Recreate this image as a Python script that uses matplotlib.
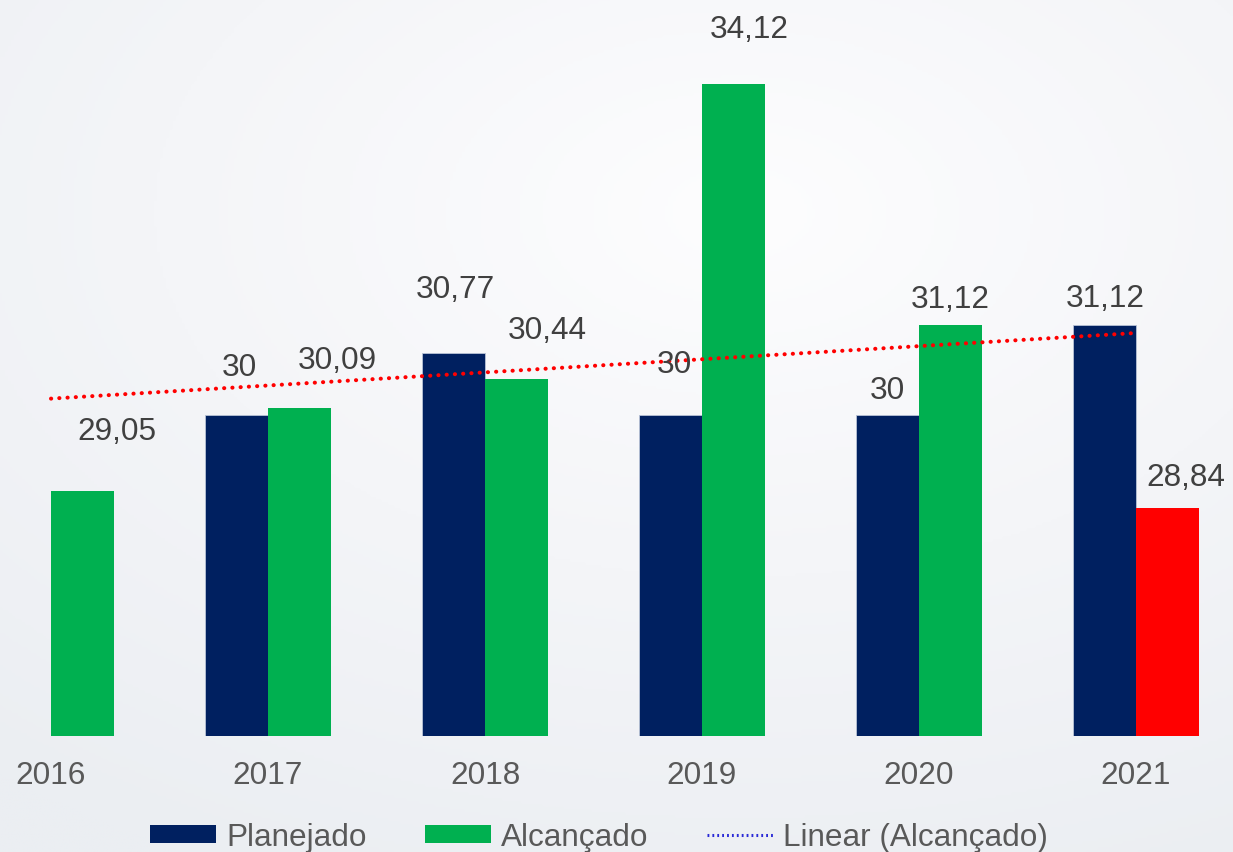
import numpy as np
import matplotlib
matplotlib.use("Agg")
import matplotlib.pyplot as plt
from matplotlib.patches import Patch
from matplotlib.lines import Line2D
from matplotlib.colors import LinearSegmentedColormap

plt.rcParams['font.family'] = ['Liberation Sans', 'DejaVu Sans']

# ---- data ----
years = ['2016', '2017', '2018', '2019', '2020', '2021']
planejado = [np.nan, 30, 30.77, 30, 30, 31.12]
alcancado = [29.05, 30.09, 30.44, 34.12, 31.12, 28.84]
planejado_labels = ['', '30', '30,77', '30', '30', '31,12']
alcancado_labels = ['29,05', '30,09', '30,44', '34,12', '31,12', '28,84']

# label offsets from the bar top (pixels: dx, dy to text centre)
plan_offsets = [(0, 0), (3, 51), (2, 67), (4, 54), (0, 28), (1, 30)]
alc_offsets = [(34, 64), (38, 51), (31, 53), (16, 58), (0, 29), (18, 34)]

NAVY = '#002060'
GREEN = '#00B050'
RED = '#FF0000'
TEXT = '#404040'
TICK = '#595959'

W, H = 1233, 853
fig = plt.figure(figsize=(W / 100, H / 100), dpi=100)

# soft background gradient
bg = fig.add_axes([0, 0, 1, 1], zorder=-5)
yy, xx = np.mgrid[0:1:300j, 0:1:400j]
r = np.sqrt(((xx - 0.6) / 1.0) ** 2 + ((yy - 0.25) / 0.9) ** 2)
cmap = LinearSegmentedColormap.from_list('bg', ['#FDFDFE', '#F4F5F8', '#EBEEF2'])
bg.imshow(r, cmap=cmap, aspect='auto', extent=[0, 1, 1, 0], vmin=0, vmax=0.95)
bg.axis('off')

# main axes: baseline at y=26
base_px = 737
ax = fig.add_axes([0, (H - base_px) / H, 1, base_px / H])
ax.set_facecolor('none')
px_per_unit = 80.3
ymin = 26
ax.set_ylim(ymin, ymin + base_px / px_per_unit)
cat_px = 217.0
first_px = 51.0
ax.set_xlim(-first_px / cat_px, (W - first_px) / cat_px)

x = np.arange(len(years))
bw = 63 / cat_px

alc_colors = [GREEN] * (len(years) - 1) + [RED]
bp = ax.bar(x - bw / 2, np.array(planejado) - ymin, bw, bottom=ymin,
            color=NAVY, edgecolor='#b8c3d6', linewidth=0.6, zorder=2)
ba = ax.bar(x + bw / 2, np.array(alcancado) - ymin, bw, bottom=ymin,
            color=alc_colors, linewidth=0, zorder=2)

# linear trend of achieved values
coef = np.polyfit(x + 1, alcancado, 1)
trend = np.polyval(coef, x + 1)
ax.plot(x, trend, color=RED, lw=2.9, linestyle=(0, (0.05, 2.0)),
        dash_capstyle='round', zorder=4)

# value labels
cap_half = 11.5
for i in range(len(years)):
    if not np.isnan(planejado[i]):
        dx, dy = plan_offsets[i]
        ax.annotate(planejado_labels[i], (x[i] - bw / 2, planejado[i]),
                    xytext=(dx * 0.72, (dy - cap_half) * 0.72), textcoords='offset points',
                    ha='center', va='baseline', fontsize=22.7, color=TEXT, zorder=5)
    dx, dy = alc_offsets[i]
    ax.annotate(alcancado_labels[i], (x[i] + bw / 2, alcancado[i]),
                xytext=(dx * 0.72, (dy - cap_half) * 0.72), textcoords='offset points',
                ha='center', va='baseline', fontsize=22.7, color=TEXT, zorder=5)

ax.set_xticks(x)
ax.set_xticklabels(years, fontsize=22.7, color=TICK)
ax.tick_params(axis='x', length=0, pad=17)
ax.set_yticks([])
for s in ax.spines.values():
    s.set_visible(False)

handles = [Patch(facecolor=NAVY, edgecolor='none'),
           Patch(facecolor=GREEN, edgecolor='none'),
           Line2D([0], [0], color='#2a2ad6', lw=2.2, linestyle=(0, (0.6, 1.0)))]
labels = ['Planejado', 'Alcançado', 'Linear (Alcançado)']
fig.legend(handles, labels, loc='center', bbox_to_anchor=(599 / W, 1 - 838 / H),
           ncol=3, frameon=False, fontsize=22.7, labelcolor=TICK,
           handlelength=2.1, handleheight=0.5, handletextpad=0.32,
           columnspacing=1.85, borderpad=0)

fig.savefig('out.png', dpi=100)
